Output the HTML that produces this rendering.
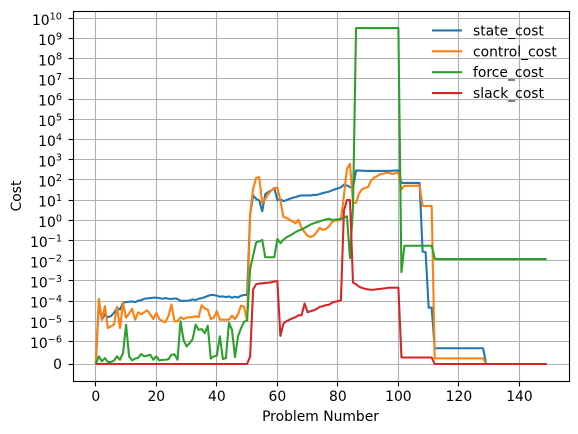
<!DOCTYPE html>
<html>
<head>
<meta charset="utf-8">
<title>Cost per problem</title>
<style>
html,body{margin:0;padding:0;background:#fff;width:578px;height:434px;overflow:hidden}
svg{display:block}
text{font-family:"DejaVu Sans","Liberation Sans",sans-serif;font-size:13.89px;fill:#000}
</style>
</head>
<body>
<svg id="chart" xmlns="http://www.w3.org/2000/svg" width="578" height="434" viewBox="0 0 578 434">
  <rect x="0" y="0" width="578" height="434" fill="#fff"/>
  <g id="grid"></g>
  <g id="series"></g>
  <g id="ticks"></g>
  <rect x="73.5" y="11.5" width="496" height="370" fill="none" stroke="#000" stroke-width="1.1"/>
  <text x="320.5" y="421" text-anchor="middle">Problem Number</text>
  <text transform="translate(21,196) rotate(-90)" text-anchor="middle">Cost</text>
  <g id="legend"></g>
</svg>
<script>
var xTickValues = [0, 20, 40, 60, 80, 100, 120, 140];
var yTickValues = [0, 1e-6, 1e-5, 1e-4, 1e-3, 1e-2, 1e-1, 1e0, 1e1, 1e2, 1e3, 1e4, 1e5, 1e6, 1e7, 1e8, 1e9, 1e10];
var seriesNames = ['state_cost', 'control_cost', 'force_cost', 'slack_cost'];
var seriesColors = ['#1f77b4', '#ff7f0e', '#2ca02c', '#d62728'];

var stateCost = [
  0,8.3e-5,1.2e-5,2.2e-5,1.6e-5,1.8e-5,2.6e-5,4.6e-5,3.8e-5,8.3e-5,
  8.9e-5,9.3e-5,9.6e-5,8.9e-5,1.04e-4,1.12e-4,1.3e-4,1.36e-4,1.41e-4,1.47e-4,
  1.47e-4,1.41e-4,1.31e-4,1.41e-4,1.31e-4,1.26e-4,1.36e-4,1.26e-4,1.04e-4,1.04e-4,
  1.04e-4,1.08e-4,1.21e-4,1.12e-4,1.31e-4,1.41e-4,1.58e-4,1.78e-4,2e-4,2e-4,
  1.85e-4,1.65e-4,1.71e-4,1.58e-4,1.71e-4,1.47e-4,1.65e-4,1.52e-4,1.85e-4,2e-4,
  2e-4,2,17,11.5,9.5,2.8,20,25,30,39,
  10,11,8.9,10,11.5,13,14,16,17,17,
  17,17,18,18,20,22,24,26,30,34,
  38,43,58,53,44,40,295,290,285,280,
  277,277,277,277,277,277,277,280,285,290,
  295,71,71,71,71,71,71,71,0.028,0.026,
  4.7e-5,4.7e-5,7e-7,7e-7,7e-7,7e-7,7e-7,7e-7,7e-7,7e-7,
  7e-7,7e-7,7e-7,7e-7,7e-7,7e-7,7e-7,7e-7,7e-7,0,
  0,0,0,0,0,0,0,0,0,0,
  0,0,0,0,0,0,0,0,0,0
];
var controlCost = [
  0,1.3e-4,1.2e-5,5.6e-5,4.6e-6,5.6e-6,6.8e-6,5.2e-5,4.6e-6,8.3e-5,
  1.5e-5,2.4e-5,4.1e-5,1.2e-5,2.8e-5,2.2e-5,2.8e-5,3.5e-5,2.2e-5,1.3e-5,
  2.6e-5,1.3e-5,1e-5,9e-6,1.8e-5,6.8e-5,1e-5,1e-5,1.6e-5,1.3e-5,
  1.5e-5,1.6e-5,1.6e-5,1.8e-5,1.6e-5,6.3e-5,4.3e-5,3.8e-5,1.3e-5,1.5e-5,
  3.2e-5,1.2e-5,1.2e-5,1.2e-5,1.2e-5,1.9e-5,1.3e-5,2.2e-5,6e-5,5.2e-5,
  1e-5,2.1,36,128,137,7,11.5,20,30,36,
  43,9.5,1.5,1.3,1.1,0.87,0.71,1.05,0.42,0.26,
  0.17,0.15,0.17,0.26,0.42,0.33,0.37,0.49,0.79,0.98,
  0.98,1.05,17,355,630,7,7.3,21,35,40,
  45,95,130,155,190,205,220,220,195,213,
  220,34,51,51,51,51,51,51,5.1,5.1,
  5.1,5.1,2.5e-7,2.5e-7,2.5e-7,2.5e-7,2.5e-7,2.5e-7,2.5e-7,2.5e-7,
  2.5e-7,2.5e-7,2.5e-7,2.5e-7,2.5e-7,2.5e-7,2.5e-7,2.5e-7,2.5e-7,0,
  0,0,0,0,0,0,0,0,0,0,
  0,0,0,0,0,0,0,0,0,0
];
var forceCost = [
  0,3.4e-7,1.2e-7,2.6e-7,9e-8,9e-8,1.5e-7,3.4e-7,1.9e-7,4.9e-7,
  6.8e-6,3.4e-7,1.6e-7,2.4e-7,2.8e-7,4.4e-7,3.4e-7,3.7e-7,4.1e-7,1.9e-7,
  3.4e-7,1.6e-7,1.8e-7,1.9e-7,2.1e-7,4.1e-7,4.3e-7,1.9e-7,1e-5,1.2e-6,
  7.8e-7,9.3e-7,1.3e-6,6.8e-6,3.8e-6,4.1e-6,2.6e-6,6e-6,2.4e-7,3.4e-7,
  3.7e-7,1.8e-6,2.2e-7,2.6e-7,8.3e-6,3.8e-6,3.1e-7,1.8e-6,4.6e-6,9.6e-6,
  1.1e-5,3.9e-3,0.018,0.081,0.09,0.107,0.0148,0.0148,0.0148,0.0148,
  0.12,0.073,0.11,0.144,0.17,0.21,0.26,0.31,0.35,0.42,
  0.51,0.62,0.71,0.79,0.89,1,1.1,1.2,1.05,1.08,
  1.1,1.2,1.3,1.6,0.0135,4.5,3.3e9,3.3e9,3.3e9,3.3e9,
  3.3e9,3.3e9,3.3e9,3.3e9,3.3e9,3.3e9,3.3e9,3.3e9,3.3e9,3.3e9,
  3.3e9,2.7e-3,0.055,0.055,0.055,0.055,0.055,0.055,0.055,0.055,
  0.055,0.055,0.0126,0.012,0.012,0.012,0.012,0.012,0.012,0.012,
  0.012,0.012,0.012,0.012,0.012,0.012,0.012,0.012,0.012,0.012,
  0.012,0.012,0.012,0.012,0.012,0.012,0.012,0.012,0.012,0.012,
  0.012,0.012,0.012,0.012,0.012,0.012,0.012,0.012,0.012,0.012
];
var slackCost = [
  0,0,0,0,0,0,0,0,0,0,
  0,0,0,0,0,0,0,0,0,0,
  0,0,0,0,0,0,0,0,0,0,
  0,0,0,0,0,0,0,0,0,0,
  0,0,0,0,0,0,0,0,0,0,
  0,3.4e-7,3.8e-4,6.8e-4,7.4e-4,7.6e-4,7.9e-4,8.1e-4,8.5e-4,9.3e-4,
  1e-3,1.9e-6,7.7e-6,1e-5,1.2e-5,1.4e-5,1.6e-5,2e-5,2e-5,7.6e-5,
  2.8e-5,3.2e-5,3.5e-5,4.1e-5,5.2e-5,5.6e-5,6.3e-5,6.5e-5,8.3e-5,9.3e-5,
  1e-4,1.1e-4,3,10,10,8.2e-4,6.8e-4,5.2e-4,4.5e-4,4e-4,
  3.8e-4,3.6e-4,3.7e-4,3.9e-4,4e-4,4.2e-4,4.4e-4,4.6e-4,4.6e-4,4.6e-4,
  4.6e-4,2.9e-7,2.9e-7,2.9e-7,2.9e-7,2.9e-7,2.9e-7,2.9e-7,2.9e-7,2.9e-7,
  2.9e-7,2.9e-7,0,0,0,0,0,0,0,0,
  0,0,0,0,0,0,0,0,0,0,
  0,0,0,0,0,0,0,0,0,0,
  0,0,0,0,0,0,0,0,0,0
];

var NS = 'http://www.w3.org/2000/svg';
var allSeries = [stateCost, controlCost, forceCost, slackCost];

function sx(v) { return 95.8 + 3.026 * v; }
function sy(v) {
  if (v <= 1e-6) return 364 - 22.5 * (v / 1e-6);
  return 341.5 - 20.2 * (Math.log10(v) + 6);
}
function snap(p) { return Math.round(p - 0.5) + 0.5; }
function make(tag, attrs) {
  var el = document.createElementNS(NS, tag);
  for (var k in attrs) el.setAttribute(k, attrs[k]);
  return el;
}

var grid = document.getElementById('grid');
var ticks = document.getElementById('ticks');

xTickValues.forEach(function (v) {
  var x = snap(sx(v));
  var g = make('line', {x1: x, x2: x, y1: 11.5, y2: 381.5, stroke: '#b0b0b0', 'stroke-width': 1.1});
  
  
  grid.appendChild(g);
  var t = make('line', {x1: x, x2: x, y1: 381.5, y2: 386.4, stroke: '#000', 'stroke-width': 1.1});
  
  
  ticks.appendChild(t);
  var l = make('text', {x: sx(v), y: 401, 'text-anchor': 'middle'});
  
  
  l.textContent = String(v);
  ticks.appendChild(l);
});

yTickValues.forEach(function (v) {
  var y = snap(sy(v));
  var g = make('line', {x1: 73.5, x2: 569.5, y1: y, y2: y, stroke: '#b0b0b0', 'stroke-width': 1.1});
  
  
  grid.appendChild(g);
  var t = make('line', {x1: 68.6, x2: 73.5, y1: y, y2: y, stroke: '#000', 'stroke-width': 1.1});
  
  
  ticks.appendChild(t);
  var l = make('text', {x: 62, y: sy(v) + (v === 0 ? 5 : 6.6), 'text-anchor': 'end'});
  
  
  if (v === 0) {
    l.textContent = '0';
  } else {
    var exp = Math.round(Math.log10(v));
    var base = make('tspan', {});
    base.textContent = '10';
    var sup = make('tspan', {dy: -5.6, 'font-size': '9.72px', style: 'font-size:9.72px'});
    sup.textContent = String(exp).replace('-', '\u2212');
    l.appendChild(base);
    l.appendChild(sup);
  }
  ticks.appendChild(l);
});

var seriesGroup = document.getElementById('series');
allSeries.forEach(function (values, s) {
  var pts = values.map(function (v, i) {
    return sx(i).toFixed(2) + ',' + sy(v).toFixed(2);
  }).join(' ');
  var line = make('polyline', {points: pts, fill: 'none', stroke: seriesColors[s], 'stroke-width': 2.08, 'stroke-linejoin': 'round', 'stroke-linecap': 'butt'});
  
  
  seriesGroup.appendChild(line);
});

var legend = document.getElementById('legend');
seriesNames.forEach(function (name, s) {
  var y = 30.4 + s * 20.9;
  var sw = make('line', {x1: 432, x2: 462, y1: y, y2: y, stroke: seriesColors[s], 'stroke-width': 2.08});
  
  
  legend.appendChild(sw);
  var tx = make('text', {x: 473, y: y + 5});
  
  
  tx.textContent = name;
  legend.appendChild(tx);
});
</script>
</body>
</html>
